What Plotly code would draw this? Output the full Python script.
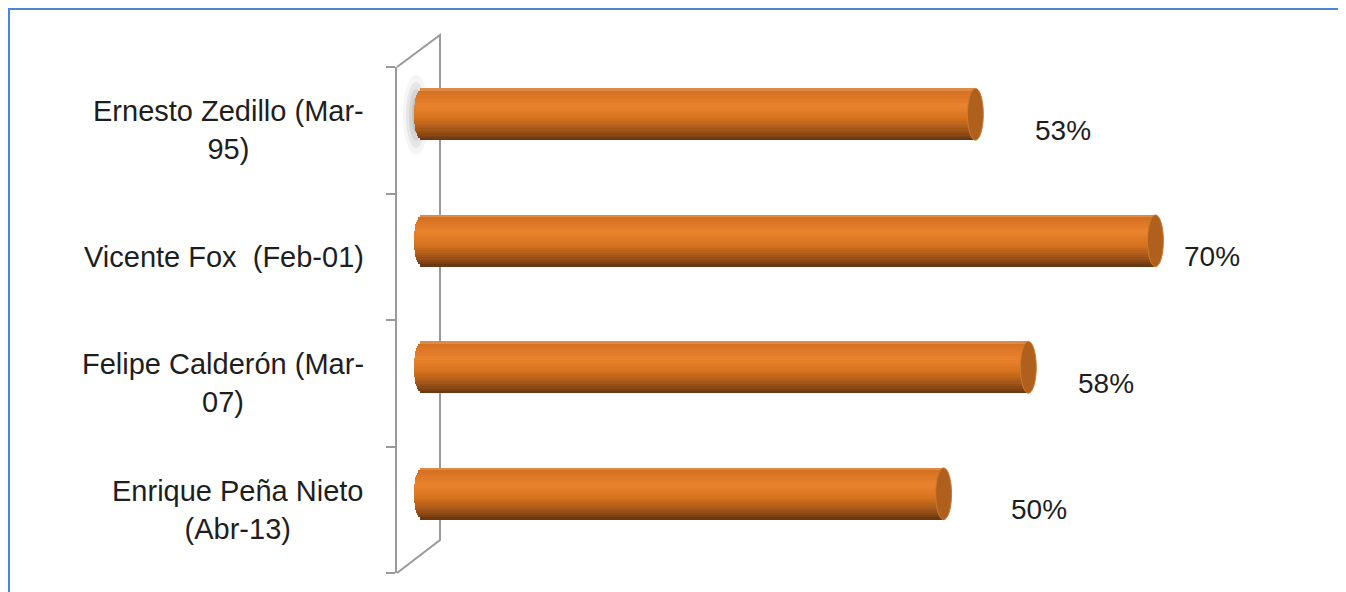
import math
import plotly.graph_objects as go

# data
presidents = ["Ernesto Zedillo (Mar-<br>95)", "Vicente Fox  (Feb-01)",
              "Felipe Calderón (Mar-<br>07)", "Enrique Peña Nieto<br>(Abr-13)"]
approval = [53, 70, 58, 50]
value_labels = ["53%", "70%", "58%", "50%"]

OFF = 8                               # page body margin
W, H = 1346 - OFF, 592 - OFF
L, R, T, B = 397 - OFF, 1290 - OFF, 67 - OFF, 573 - OFF   # plot area in pixels
XMIN, XMAX = -1.6, 82.7
CAP = 0.75                            # half width of cylinder end (x units)
BAR_H = 0.41                          # cylinder thickness (category units)
BAR_SHIFT = -0.126                    # 3d offset upward
N_BANDS = 22


def px(x, y):
    x, y = x - OFF, y - OFF
    return (x - L) / (R - L), (B - y) / (B - T)


def mix(c1, c2, f):
    a = [int(c1[i:i + 2], 16) for i in (1, 3, 5)]
    b = [int(c2[i:i + 2], 16) for i in (1, 3, 5)]
    return "rgb(%d,%d,%d)" % tuple(round(a[i] + (b[i] - a[i]) * f) for i in range(3))


stops = [(0.0, "#E39A5E"), (0.06, "#D57022"), (0.33, "#EA832E"),
         (0.58, "#D5721E"), (0.82, "#A05418"), (1.0, "#653410")]


def shade(t):
    for (t0, c0), (t1, c1) in zip(stops, stops[1:]):
        if t <= t1:
            return mix(c0, c1, (t - t0) / (t1 - t0))
    return stops[-1][1]


ypos = list(range(len(presidents)))
fig = go.Figure()

band = BAR_H / N_BANDS
top = BAR_SHIFT - BAR_H / 2
for k in range(N_BANDS):
    t = (k + 0.5) / N_BANDS
    u = 2 * t - 1
    start = CAP - CAP * math.sqrt(max(0.0, 1 - u * u))
    fig.add_trace(go.Bar(
        y=ypos, x=[v - start for v in approval], base=[start] * len(approval),
        orientation="h", width=band * 1.04, offset=top + k * band,
        marker=dict(color=shade(t), line=dict(width=0)),
        showlegend=False, hoverinfo="skip"))

shapes = []
# soft shadow next to first bar
for w, h, op in [(13, 40, 0.08), (10, 33, 0.12), (7, 26, 0.16), (4, 18, 0.2)]:
    x0, y0 = px(416 - w, 115 - h)
    x1, y1 = px(416 + w, 115 + h)
    shapes.append(dict(type="circle", xref="paper", yref="paper", x0=x0, x1=x1,
                       y0=y0, y1=y1, fillcolor="#7A7A7A", opacity=op,
                       line=dict(width=0), layer="below"))

# 3d wall
p = [px(397, 67), px(440, 35), px(440, 540), px(397, 573)]
shapes.append(dict(type="path", xref="paper", yref="paper",
                   path="M %f %f L %f %f L %f %f L %f %f" % (p[0] + p[1] + p[2] + p[3]),
                   line=dict(color="#9A9A9A", width=2), layer="below"))

# cylinder end caps
for i, v in enumerate(approval):
    shapes.append(dict(type="circle", xref="x", yref="y",
                       x0=v - CAP, x1=v + CAP,
                       y0=i + BAR_SHIFT - BAR_H / 2, y1=i + BAR_SHIFT + BAR_H / 2,
                       fillcolor="#B0601D", line=dict(color="#CD7B32", width=1)))

# outer border
b0 = px(9, 9)
b1 = px(1340, 600)
shapes.append(dict(type="rect", xref="paper", yref="paper", x0=b0[0], y0=b0[1],
                   x1=b1[0], y1=b1[1], line=dict(color="#4F86D0", width=2)))

font = dict(family="Liberation Sans, Arial, sans-serif", size=29, color="#1E1E1E")
vfont = dict(family="Liberation Sans, Arial, sans-serif", size=28, color="#1E1E1E")
annotations = []
for i, name in enumerate(presidents):
    annotations.append(dict(xref="paper", yref="y", x=0, y=i, xshift=-31,
                            text=name, showarrow=False, xanchor="right",
                            yanchor="middle", align="center", font=font))

label_shift = [58, 27, 48, 65]
for i, v in enumerate(approval):
    annotations.append(dict(xref="x", yref="y", x=v, y=i, xshift=label_shift[i],
                            text=value_labels[i], showarrow=False, xanchor="left",
                            yanchor="middle", font=vfont))

fig.update_layout(
    width=W, height=H,
    margin=dict(l=L, r=W - R, t=T, b=H - B, pad=0),
    paper_bgcolor="white", plot_bgcolor="white",
    barmode="overlay", bargap=0,
    shapes=shapes, annotations=annotations,
    xaxis=dict(range=[XMIN, XMAX], visible=False, fixedrange=True),
    yaxis=dict(range=[len(presidents) - 0.5, -0.5], showgrid=False, zeroline=False,
               showline=True, linecolor="#9A9A9A", linewidth=2,
               tickvals=ypos, showticklabels=False, ticks="",
               minor=dict(tick0=-0.5, dtick=1, ticks="outside", ticklen=9,
                          tickcolor="#9A9A9A", tickwidth=2, showgrid=False),
               fixedrange=True),
)

fig.write_html("out.html")
